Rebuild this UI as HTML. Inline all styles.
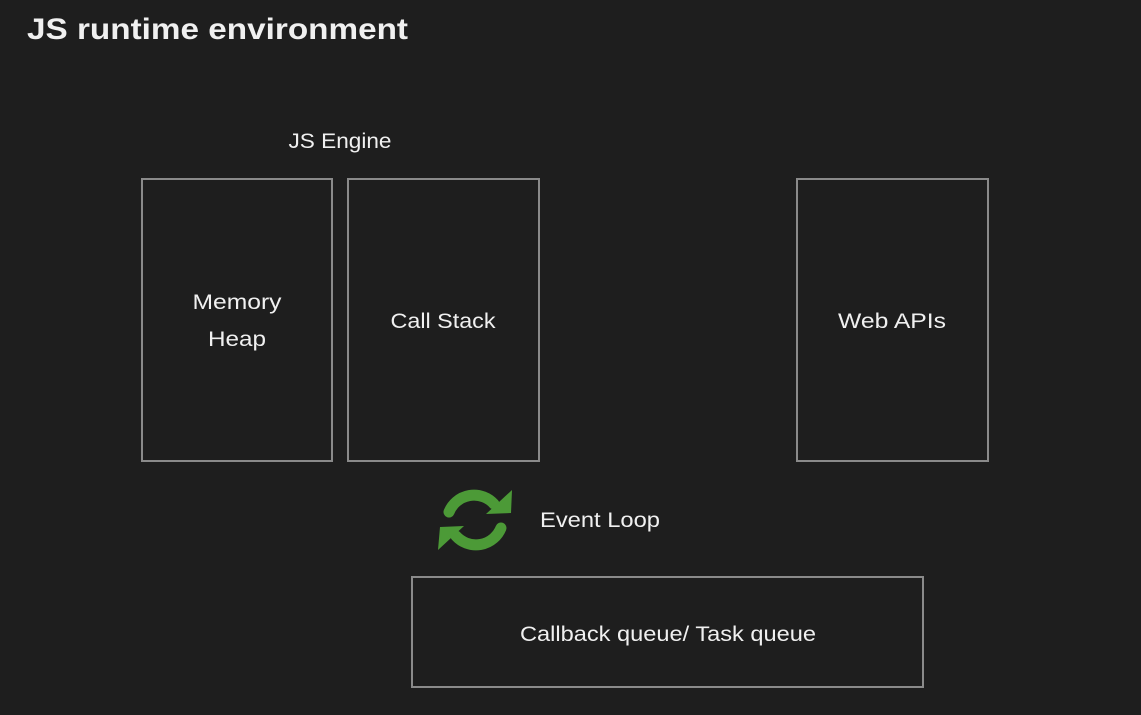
<!DOCTYPE html>
<html><head><meta charset="utf-8"><style>
html,body{margin:0;padding:0;background:#1e1e1e;width:1141px;height:715px;overflow:hidden}
svg{display:block}
text{font-family:"Liberation Sans",sans-serif;fill:#f0f0f0}
</style></head><body>
<svg width="1141" height="715" viewBox="0 0 1141 715">
<rect width="1141" height="715" fill="#1e1e1e"/>
<text x="27" y="39" font-size="30" font-weight="bold" textLength="381" lengthAdjust="spacingAndGlyphs" fill="#fafafa">JS runtime environment</text>
<text x="340" y="148" font-size="21" text-anchor="middle" textLength="103" lengthAdjust="spacingAndGlyphs">JS Engine</text>
<g fill="none" stroke="#8a8a8a" stroke-width="2">
<rect x="142" y="179" width="190" height="282"/>
<rect x="348" y="179" width="191" height="282"/>
<rect x="797" y="179" width="191" height="282"/>
<rect x="412" y="577" width="511" height="110"/>
</g>
<text x="237" y="309" font-size="21" text-anchor="middle" textLength="89" lengthAdjust="spacingAndGlyphs">Memory</text>
<text x="237" y="346" font-size="21" text-anchor="middle" textLength="58" lengthAdjust="spacingAndGlyphs">Heap</text>
<text x="443" y="328" font-size="21" text-anchor="middle" textLength="105" lengthAdjust="spacingAndGlyphs">Call Stack</text>
<text x="892" y="328" font-size="21" text-anchor="middle" textLength="108" lengthAdjust="spacingAndGlyphs">Web APIs</text>
<text x="540" y="527" font-size="21" textLength="120" lengthAdjust="spacingAndGlyphs">Event Loop</text>
<text x="668" y="641" font-size="21" text-anchor="middle" textLength="296" lengthAdjust="spacingAndGlyphs">Callback queue/ Task queue</text>
<g fill="none" stroke="#4c9a37" stroke-width="11" stroke-linecap="round">
<path d="M449 512 A27 27 0 0 1 494 504"/>
<path d="M501 528 A27 27 0 0 1 456 536"/>
</g>
<g fill="#4c9a37">
<polygon points="512,490 511,513 486,514"/>
<polygon points="438,550 440,527 464,526"/>
</g>
</svg>
</body></html>
